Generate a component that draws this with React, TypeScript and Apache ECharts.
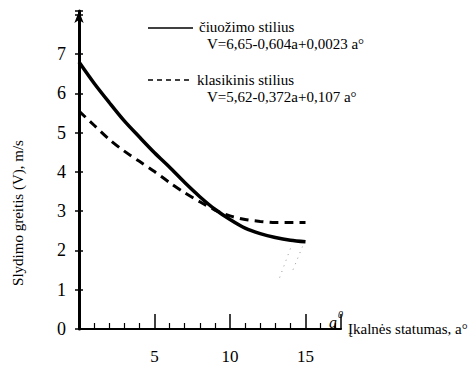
import React, { useEffect, useRef } from "react";
import * as echarts from "echarts";

const slopeDeg = [0, 1, 2, 3, 4, 5, 6, 7, 8, 9, 10, 11, 12, 13, 14, 15];
const skatingSpeed = [6.8, 6.26, 5.77, 5.3, 4.89, 4.49, 4.12, 3.73, 3.37, 3.05, 2.79, 2.57, 2.43, 2.33, 2.26, 2.22];
const classicSpeed = [5.55, 5.19, 4.83, 4.53, 4.27, 4.01, 3.73, 3.47, 3.24, 3.03, 2.88, 2.79, 2.74, 2.71, 2.71, 2.71];
const speckleA = [[14.8, 2.1], [14.15, 1.49]];
const speckleB = [[14.0, 2.05], [13.2, 1.22]];

const skatingName = "čiuožimo stilius";
const skatingFormula = "V=6,65-0,604a+0,0023 a°";
const classicName = "klasikinis stilius";
const classicFormula = "V=5,62-0,372a+0,107 a°";
const yTitle = "Slydimo greitis (V), m/s";
const xTitle = "Įkalnės statumas, a°";
const yTicks = [0, 1, 2, 3, 4, 5, 6, 7];
const xTickLabels = [5, 10, 15];

const FONT = "Liberation Serif";

export default function App() {
  const ref = useRef<HTMLDivElement>(null);
  useEffect(() => {
    if (!ref.current) return;
    const chart = echarts.init(ref.current, null, { renderer: "svg" });
    const pair = (ys: number[]) => slopeDeg.map((x, i) => [x, ys[i]]);
    const text = { fontFamily: FONT, color: "#000" };
    const gtext = (t: string, x: number, y: number, size: number, extra: any = {}) => ({
      type: "text",
      x,
      y,
      style: { text: t, fontFamily: FONT, fontSize: size, fill: "#000", ...extra },
    });
    chart.setOption({
      animation: false,
      backgroundColor: "#fff",
      textStyle: { fontFamily: FONT },
      grid: { left: 79, top: 11, width: 262, height: 320 },
      xAxis: {
        type: "value",
        min: 0,
        max: 17.35,
        interval: 5,
        splitLine: { show: false },
        axisLine: { lineStyle: { color: "#000", width: 2 } },
        axisTick: { inside: true, length: 15, lineStyle: { color: "#000", width: 1.5 } },
        minorTick: { show: true, splitNumber: 5, length: 6, lineStyle: { color: "#000", width: 1.2 } },
        axisLabel: {
          ...text,
          fontSize: 17,
          margin: 19,
          showMaxLabel: false,
          formatter: (v: number) => (xTickLabels.includes(v) ? String(v) : ""),
        },
        name: xTitle,
        nameLocation: "end",
        nameGap: 7,
        nameTextStyle: { ...text, fontSize: 15, padding: [8, 0, 0, 0] },
      },
      yAxis: [
        {
          type: "value",
          min: 0,
          max: 8.1,
          interval: 1,
          position: "left",
          splitLine: { show: false },
          axisLine: {
            lineStyle: { color: "#000", width: 3 },
            symbol: ["none", "arrow"],
            symbolSize: [7, 12],
          },
          axisTick: { inside: false, length: 4, lineStyle: { color: "#000", width: 1.5 } },
          axisLabel: {
            ...text,
            fontSize: 18,
            margin: 13,
            formatter: (v: number) => (yTicks.includes(v) ? String(v) : ""),
          },
        },
        {
          type: "value",
          min: 0,
          max: 8.1,
          interval: 1,
          position: "left",
          offset: 0,
          splitLine: { show: false },
          axisLine: { show: false },
          axisTick: { inside: true, length: 4, lineStyle: { color: "#000", width: 1.5 } },
          axisLabel: { show: false },
        },
      ],
      series: [
        {
          type: "line",
          name: skatingName,
          data: pair(skatingSpeed),
          smooth: 0.3,
          symbol: "none",
          lineStyle: { color: "#000", width: 3.5 },
        },
        {
          type: "line",
          name: classicName,
          data: pair(classicSpeed),
          smooth: 0.3,
          symbol: "none",
          lineStyle: { color: "#000", width: 3, type: [9, 6] },
        },
        {
          type: "line",
          data: speckleA,
          symbol: "none",
          lineStyle: { color: "#999", width: 1, type: [1, 5] },
        },
        {
          type: "line",
          data: speckleB,
          symbol: "none",
          lineStyle: { color: "#999", width: 1, type: [1, 5] },
        },
      ],
      graphic: [
        { ...gtext(yTitle, 10, 213, 15, { align: "center" }), rotation: Math.PI / 2 },
        { type: "line", shape: { x1: 148, y1: 28, x2: 193, y2: 28 }, style: { stroke: "#000", lineWidth: 1.3 } },
        gtext(skatingName, 199, 19, 15),
        gtext(skatingFormula, 207, 36, 15),
        {
          type: "line",
          shape: { x1: 148, y1: 80, x2: 191, y2: 80 },
          style: { stroke: "#000", lineWidth: 1.5, lineDash: [5, 4] },
        },
        gtext(classicName, 197, 72, 15),
        gtext(classicFormula, 207, 89, 15),
        gtext("a", 329, 314, 16, { fontStyle: "italic" }),
        gtext("0", 338, 309, 10, { fontStyle: "italic" }),
      ],
    });
    return () => chart.dispose();
  }, []);
  return <div ref={ref} style={{ position: "fixed", left: 0, top: 0, width: 474, height: 365 }} />;
}
